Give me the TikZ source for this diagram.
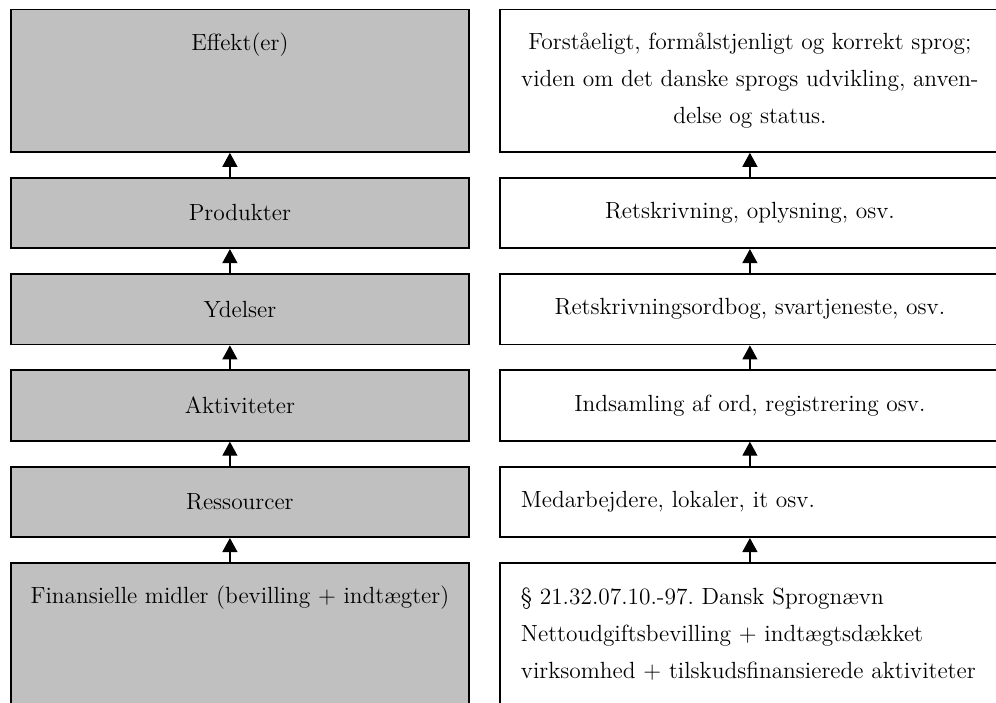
\documentclass[tikz,border=0pt]{standalone}
\usepackage{tikz}
\usetikzlibrary{positioning,arrows.meta}
\definecolor{boxgray}{RGB}{192,192,192}
\frenchspacing
\tikzstyle{grayblock} = [rectangle, draw=black, line width=0.9pt, fill=boxgray, minimum width=229pt, minimum height=35.25pt, text centered, inner sep=0pt]
\tikzstyle{whiteblock} = [rectangle, draw=black, line width=0.9pt, fill=white, minimum width=250pt, minimum height=35.25pt, align=center, inner sep=0pt]
\tikzstyle{lefttext} = [align=left, text width=229pt]
\tikzstyle{arrow} = [line width=0.6pt, -{Triangle[width=7.5pt,length=7pt]}]
\begin{document}
\begin{tikzpicture}[x=0.5pt, y=-0.5pt, node distance=12pt, font=\fontsize{11.7}{18.5}\selectfont]
\clip (0,0) rectangle (996,702);
% left column
\node (fin1) [grayblock, minimum height=71.25pt, anchor=north west] at (10,562) {};
\node (res1) [grayblock, above=of fin1] {Ressourcer};
\node (akt1) [grayblock, above=of res1] {Aktiviteter};
\node (yde1) [grayblock, above=of akt1] {Ydelser};
\node (pro1) [grayblock, above=of yde1] {Produkter};
\node (eff1) [grayblock, minimum height=71.25pt, above=of pro1] {};
\node (efftxt) at ([yshift=-18pt]eff1.north) {Effekt(er)};
\node (fintxt) at ([yshift=-18pt]fin1.north) {Finansielle midler (bevilling + indtægter)};
% right column
\node (fin2) [whiteblock, lefttext, minimum height=71.25pt, anchor=north west] at (499,562)
  {§ 21.32.07.10.-97. Dansk Sprognævn\\ Nettoudgiftsbevilling + indtægtsdækket\\ virksomhed + tilskudsfinansierede aktiviteter};
\node (res2) [whiteblock, lefttext, above=of fin2] {Medarbejdere, lokaler, it osv.};
\node (akt2) [whiteblock, above=of res2] {Indsamling af ord, registrering osv.};
\node (yde2) [whiteblock, above=of akt2] {Retskrivningsordbog, svartjeneste, osv.};
\node (pro2) [whiteblock, above=of yde2] {Retskrivning, oplysning, osv.};
\node (eff2) [whiteblock, minimum height=71.25pt, above=of pro2]
  {Forståeligt, formålstjenligt og korrekt sprog;\\ viden om det danske sprogs udvikling, anven-\\delse og status.};
% arrows
\draw [arrow] ([xshift=-5pt]fin1.north) -- ([xshift=-5pt]res1.south);
\draw [arrow] ([xshift=-5pt]res1.north) -- ([xshift=-5pt]akt1.south);
\draw [arrow] ([xshift=-5pt]akt1.north) -- ([xshift=-5pt]yde1.south);
\draw [arrow] ([xshift=-5pt]yde1.north) -- ([xshift=-5pt]pro1.south);
\draw [arrow] ([xshift=-5pt]pro1.north) -- ([xshift=-5pt]eff1.south);
\draw [arrow] (fin2) -- (res2);
\draw [arrow] (res2) -- (akt2);
\draw [arrow] (akt2) -- (yde2);
\draw [arrow] (yde2) -- (pro2);
\draw [arrow] (pro2) -- (eff2);
\end{tikzpicture}
\end{document}
